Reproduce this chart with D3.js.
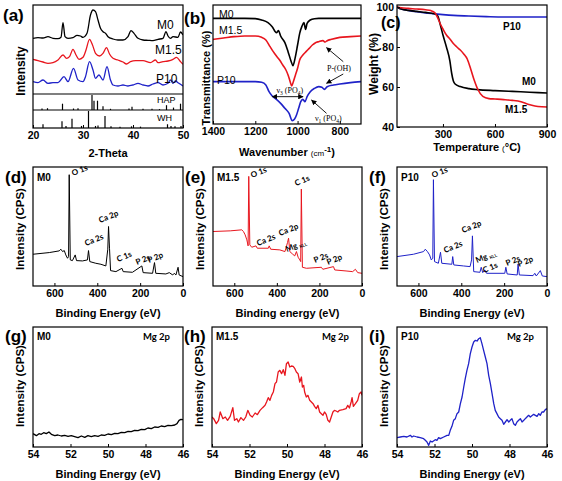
<!DOCTYPE html>
<html><head><meta charset="utf-8">
<script src="https://cdn.jsdelivr.net/npm/d3@7"></script>
<style>body{margin:0;background:#fff}</style>
</head><body>
<script>
// ---------------- DATA ----------------
// (a) XRD
const xrdTheta_M0 = [20,21,22,23,24,25,25.6,26,26.4,27,28,28.8,29.5,30,30.8,31.5,32,32.5,33,33.5,34,34.5,35,36,37,38,39,39.6,40.2,41,42,43,44,45,46,46.6,47,47.5,48,49,49.5,50];
const xrdI_M0 = [167,169,168,172,167,166,170,214,172,167,169,176,174,170,182,237,252,247,222,197,187,182,172,165,162,162,172,190,182,167,162,161,160,164,167,187,174,167,172,170,186,177];
const xrdTheta_M15 = [20,21,22,23,24,25,26,26.7,27.3,28,28.6,29.2,30,30.6,31.3,31.9,32.5,33.3,34,34.7,35.3,36,37,38,38.7,39.5,40.5,42,43.5,44.5,45,46,47,48,48.7,49.5,50];
const xrdI_M15 = [104,100,96,92,94,102,117,107,112,134,117,104,110,132,164,147,122,114,122,139,120,107,102,96,90,97,100,100,94,102,94,97,99,104,110,97,89];
const xrdTheta_P10 = [20,21,22,23,24,25,26.2,27,28.1,29,30,30.5,31.3,32,32.5,33.2,34,34.8,35.5,36,37,38,39,40,41,42,43,44,45,46,47,47.5,48,48.5,49,50];
const xrdI_P10 = [37,34,42,32,34,34,52,37,77,42,37,52,97,72,47,57,42,82,42,27,24,27,24,27,32,27,24,30,34,27,32,42,32,39,34,24];
const hapTheta = [21.8,22.9,25.9,28.1,29.0,31.8,32.2,32.9,34.0,35.5,39.2,39.8,42.0,43.8,45.3,46.7,48.1,49.5];
const hapI = [10,12,42,10,12,100,62,62,25,8,10,22,8,8,6,32,16,42];
const whTheta = [22.0,25.8,26.6,27.8,29.7,31.1,32.5,33.0,34.4,35.6,37.4,39.7,41.5,46.9,47.6,48.4,49.6];
const whI = [22,40,12,55,12,100,12,14,70,10,8,10,8,22,12,10,12];
const xrdTicks = [20,30,40,50];

// (b) FTIR
const ftirWn_M0 = [1400,1300,1250,1200,1170,1140,1120,1100,1090,1080,1060,1045,1030,1022,1012,1000,990,980,970,962,955,940,920,900,800,700];
const ftirT_M0 = [317,317,317,316,312,304,292,274,280,264,244,217,187,175,197,237,272,292,304,284,302,312,316,317,317,317];
const ftirWn_M15 = [1400,1350,1300,1250,1200,1170,1150,1130,1115,1100,1085,1070,1055,1045,1035,1028,1020,1010,1000,990,975,960,945,930,915,900,880,870,860,840,800,750,700];
const ftirT_M15 = [254,258,262,264,264,260,252,232,217,204,192,177,162,147,127,114,127,147,167,192,207,217,227,237,244,247,250,246,250,254,260,262,264];
const ftirWn_P10 = [1400,1300,1200,1170,1150,1135,1120,1100,1080,1060,1040,1025,1015,1005,995,985,975,965,955,940,920,900,885,873,860,830,800,750,700];
const ftirT_P10 = [127,127,127,125,117,97,84,74,62,47,32,10,14,27,47,67,74,67,82,97,107,112,110,104,112,117,120,124,127];
const ftirTicks = [1400,1200,1000,800];

// (c) TGA
const tgaT_M0 = [35,60,100,150,200,250,270,285,300,320,340,350,360,370,400,450,500,600,700,800,900];
const tgaW_M0 = [100,99,98.3,97.8,97.3,96.6,95.5,91,86,80,73,67,63,61.5,60.2,59.2,58.7,58.2,57.8,57.4,57];
const tgaT_M15 = [35,60,100,150,200,230,255,270,285,300,320,340,360,380,400,420,440,460,480,500,530,565,600,650,700,750,790,830,870,900];
const tgaW_M15 = [100,99.6,99.3,99,98.6,98.2,97,94.5,91.5,89,86,84,81.7,80,78.5,76.5,74,69,63.5,59,55.3,54.2,54,53.7,53.3,52.6,51.4,50.5,50.1,50];
const tgaT_P10 = [35,60,100,150,200,250,300,360,450,550,650,750,900];
const tgaW_P10 = [100,99,98.3,97.6,97,96.6,96.2,95.8,95.5,95.2,95,95,95];
const tgaXTicks = [300,600,900];
const tgaYTicks = [40,60,80,100];

// (d)-(f) XPS survey
const surveyBE_M0 = [700,624,578,570,562,554,547,539,534,531,526,516,503,497,469,446,441,435,407,383,360,351,347.5,343,338,313,285,279,236,192,186,142,133,127,80,64,48,41,33,23,18,0];
const surveyI_M0 = [95,100,105,110,103,106,93,83,88,333,78,76,93,76,75,78,106,73,68,65,60,110,178,113,46,43,53,43,41,60,40,38,70,38,36,40,33,38,33,56,33,28];
const surveyBE_M15 = [700,619,565,557,549,541,535,532,527,518,498,492,440,436,429,386,362,355,350,345,339,327,316,308,300,292,288,285,280,261,191,184,134,128,75,44,31,20,0];
const surveyI_M15 = [163,165,168,163,153,138,120,328,123,116,120,113,113,120,110,108,103,118,130,143,103,96,90,103,86,78,73,290,56,53,56,50,58,48,45,43,50,40,38];
const surveyBE_P10 = [700,623,576,568,558,548,540,533,530,525,507,497,491,444,440,435,390,359,352,348,342,313,307,300,290,282,197,192,186,139,135,129,65,57,50,31,22,0];
const surveyI_P10 = [88,95,103,110,103,93,78,83,318,73,68,101,68,65,88,63,60,58,78,150,43,41,56,40,48,38,38,56,36,33,66,33,31,38,30,46,30,28];
const surveyTicks = [600,400,200,0];

// (g)-(i) Mg 2p
const mgBE_M0 = [54.00,53.91,53.82,53.68,53.56,53.43,53.29,53.15,53.02,52.84,52.67,52.49,52.31,52.13,51.96,51.78,51.60,51.42,51.24,51.07,50.89,50.71,50.53,50.36,50.18,50.00,49.82,49.64,49.47,49.29,49.11,48.93,48.76,48.58,48.40,48.22,48.04,47.87,47.69,47.51,47.33,47.16,46.98,46.80,46.62,46.44,46.32,46.21,46.11,46.00];
const mgI_M0 = [40,37,34,40,38,43,40,45,38,34,36,33,35,32,34,31,28,33,29,34,31,34,32,36,35,39,37,41,40,44,43,47,46,50,49,53,52,57,55,60,59,63,61,65,64,66,70,80,83,82];
const mgBE_M15 = [54.00,53.91,53.77,53.65,53.56,53.42,53.29,53.17,53.03,52.89,52.80,52.68,52.59,52.46,52.32,52.20,52.09,51.97,51.85,51.70,51.58,51.44,51.30,51.17,51.09,51.00,50.91,50.82,50.73,50.64,50.56,50.47,50.38,50.29,50.20,50.11,50.03,49.94,49.85,49.76,49.67,49.58,49.50,49.41,49.32,49.23,49.18,49.11,49.06,48.97,48.88,48.79,48.70,48.61,48.53,48.44,48.35,48.26,48.17,48.08,48.00,47.91,47.82,47.73,47.64,47.55,47.47,47.38,47.29,47.20,47.02,46.85,46.76,46.67,46.58,46.53,46.46,46.35,46.23,46.14,46.05,46.00];
const mgI_M15 = [90,85,70,80,105,85,90,80,92,118,80,85,75,88,80,90,110,95,90,102,97,110,118,125,135,148,140,155,165,190,195,225,230,220,232,215,250,255,240,243,242,235,225,220,195,210,180,185,165,150,155,140,135,130,122,115,125,105,100,95,105,98,80,75,90,105,110,108,105,110,112,115,125,117,135,148,122,130,140,160,165,155];
const mgBE_P10 = [54.00,53.82,53.64,53.47,53.29,53.20,53.11,52.93,52.76,52.58,52.49,52.40,52.31,52.22,52.13,51.96,51.87,51.78,51.69,51.51,51.33,51.24,51.16,51.07,50.98,50.89,50.80,50.71,50.62,50.53,50.44,50.36,50.27,50.18,50.09,50.00,49.91,49.82,49.73,49.64,49.56,49.47,49.38,49.29,49.20,49.11,49.02,48.93,48.84,48.76,48.67,48.58,48.49,48.40,48.31,48.22,48.13,48.04,47.96,47.87,47.78,47.69,47.60,47.51,47.42,47.33,47.24,47.16,47.07,46.98,46.89,46.71,46.53,46.44,46.36,46.27,46.18,46.09,46.00];
const mgI_P10 = [28,30,32,30,35,30,33,30,28,25,20,15,5,18,15,22,20,28,25,30,35,35,50,62,80,85,100,105,130,150,180,205,230,250,280,300,315,320,318,325,328,310,290,270,250,215,190,160,130,110,100,90,85,80,68,75,82,75,80,85,70,65,75,80,85,75,80,85,90,95,90,98,92,100,95,105,105,112,115];
const mgTicks = [54,52,50,48,46];

// ---------------- DRAWING ----------------
const SANS = "'Liberation Sans', Arial, sans-serif";
const CAL = "Lato, 'Open Sans', sans-serif";
const SERIF = "'Liberation Serif', 'Times New Roman', serif";
const RED = '#e8161e', BLUE = '#1f22c8', BLACK = '#000';

const svg = d3.select('body').append('svg').attr('width', 562).attr('height', 481);
svg.append('defs').append('marker').attr('id','ah').attr('viewBox','0 0 10 10')
  .attr('refX',9).attr('refY',5).attr('markerWidth',6).attr('markerHeight',6).attr('orient','auto-start-reverse')
  .append('path').attr('d','M0,0L10,5L0,10z').attr('fill','#000');

let cid = 0;
function panel(o) {
  const g = svg.append('g');
  const x = d3.scaleLinear().domain(o.xd).range([o.l, o.r]);
  const y = d3.scaleLinear().domain(o.yd).range([o.yb !== undefined ? o.yb : o.b, o.t]);
  const id = 'clip' + (cid++);
  svg.select('defs').append('clipPath').attr('id', id).append('rect')
    .attr('x', o.l).attr('y', o.t).attr('width', o.r - o.l).attr('height', o.b - o.t);
  const plot = g.append('g').attr('clip-path', `url(#${id})`);
  const ax = g.append('g').attr('transform', `translate(0,${o.b})`)
    .call(d3.axisBottom(x).tickValues(o.xt).tickSize(-3).tickPadding(4).tickFormat(d3.format('d')));
  ax.select('.domain').remove();
  ax.selectAll('line').attr('stroke', '#000');
  ax.selectAll('text').attr('font-family', SANS).attr('font-weight', 'bold').attr('font-size', 10.5).attr('fill', '#000');
  if (o.yt) {
    const ay = g.append('g').attr('transform', `translate(${o.l},0)`)
      .call(d3.axisLeft(y).tickValues(o.yt).tickSize(-3).tickPadding(3).tickFormat(d3.format('d')));
    ay.select('.domain').remove();
    ay.selectAll('line').attr('stroke', '#000');
    ay.selectAll('text').attr('font-family', SANS).attr('font-weight', 'bold').attr('font-size', 10.5).attr('fill', '#000');
  }
  const p = { g, plot, x, y, o };
  return p;
}
function box(p) {
  const o = p.o;
  p.g.append('rect').attr('x', o.l).attr('y', o.t).attr('width', o.r - o.l).attr('height', o.b - o.t)
    .attr('fill', 'none').attr('stroke', '#000').attr('stroke-width', 1.2);
}
function line(p, xs, ys, color, w, curve) {
  p.plot.append('path').datum(xs.map((v, i) => [v, ys[i]]))
    .attr('d', d3.line().x(d => p.x(d[0])).y(d => p.y(d[1])).curve(curve || d3.curveLinear))
    .attr('fill', 'none').attr('stroke', color).attr('stroke-width', w).attr('stroke-linejoin', 'round');
}
function text(x, y, s, o = {}) {
  const t = svg.append('text').attr('x', x).attr('y', y).text(s)
    .attr('font-family', o.ff || SANS).attr('font-size', o.fs || 11)
    .attr('font-weight', o.fw || 'bold').attr('fill', o.fill || '#000')
    .attr('text-anchor', o.anchor || 'start');
  if (o.rot !== undefined) t.attr('transform', `rotate(${o.rot},${x},${y})`);
  return t;
}
function ytitle(x, y, s, fs) { return text(x, y, s, { rot: -90, anchor: 'middle', fs: fs || 12 }); }

// ---- (a) XRD ----
{
  const p = panel({ l: 33, r: 183, t: 5, b: 128, yb: 94, xd: [20, 50], yd: [0, 267], xt: xrdTicks });
  line(p, xrdTheta_M0, xrdI_M0, BLACK, 1.3, d3.curveMonotoneX);
  line(p, xrdTheta_M15, xrdI_M15, RED, 1.3, d3.curveMonotoneX);
  line(p, xrdTheta_P10, xrdI_P10, BLUE, 1.3, d3.curveMonotoneX);
  const yH = d3.scaleLinear().domain([0, 100]).range([110, 95]);
  const yW = d3.scaleLinear().domain([0, 100]).range([128, 111]);
  [94, 110].forEach(v => p.g.append('line').attr('x1', 33).attr('x2', 183).attr('y1', v).attr('y2', v).attr('stroke', '#000').attr('stroke-width', 1.1));
  p.plot.selectAll('.hap').data(hapTheta).enter().append('line')
    .attr('x1', d => p.x(d)).attr('x2', d => p.x(d)).attr('y1', yH(0)).attr('y2', (d, i) => yH(hapI[i]))
    .attr('stroke', '#000').attr('stroke-width', 1.2);
  p.plot.selectAll('.wh').data(whTheta).enter().append('line')
    .attr('x1', d => p.x(d)).attr('x2', d => p.x(d)).attr('y1', yW(0)).attr('y2', (d, i) => yW(whI[i]))
    .attr('stroke', '#000').attr('stroke-width', 1.2);
  box(p);
  text(157, 28.5, 'M0', { fw: 'normal', fs: 12 });
  text(155, 54, 'M1.5', { fw: 'normal', fs: 12 });
  text(156, 82.5, 'P10', { fw: 'normal', fs: 12 });
  text(157, 102.5, 'HAP', { fw: 'normal', fs: 9 });
  text(157, 121, 'WH', { fw: 'normal', fs: 9 });
  ytitle(25, 71, 'Intensity');
  text(108, 157, '2-Theta', { anchor: 'middle', fs: 11 });
  text(3, 21, '(a)', { fs: 17 });
}

// ---- (b) FTIR ----
{
  const p = panel({ l: 213, r: 361, t: 5, b: 124, xd: [1400, 700], yd: [0, 357], xt: ftirTicks });
  line(p, ftirWn_M0, ftirT_M0, BLACK, 1.6, d3.curveMonotoneX);
  line(p, ftirWn_M15, ftirT_M15, RED, 1.6, d3.curveMonotoneX);
  line(p, ftirWn_P10, ftirT_P10, BLUE, 1.6, d3.curveMonotoneX);
  box(p);
  const arrows = [[784, 187, 863, 229], [784, 150, 863, 122], [863, 32, 934, 72]];
  arrows.forEach(a => p.g.append('line').attr('x1', p.x(a[0])).attr('y1', p.y(a[1])).attr('x2', p.x(a[2])).attr('y2', p.y(a[3]))
    .attr('stroke', '#000').attr('stroke-width', 0.9).attr('marker-end', 'url(#ah)'));
  p.g.append('line').attr('x1', p.x(1119)).attr('x2', p.x(974)).attr('y1', p.y(82)).attr('y2', p.y(82))
    .attr('stroke', '#000').attr('stroke-width', 0.9).attr('marker-start', 'url(#ah)').attr('marker-end', 'url(#ah)');
  text(p.x(861), p.y(159), 'P-(OH)', { ff: SERIF, fw: 'normal', fs: 8 });
  const n3 = text(p.x(1100), p.y(93), 'ν', { ff: SERIF, fw: 'normal', fs: 8 });
  n3.append('tspan').attr('font-size', 5.5).attr('dy', 1.5).text('3');
  n3.append('tspan').attr('dy', -1.5).text(' (PO');
  n3.append('tspan').attr('font-size', 5.5).attr('dy', 1.5).text('4');
  n3.append('tspan').attr('dy', -1.5).text(')');
  const n1 = text(p.x(918), p.y(9), 'ν', { ff: SERIF, fw: 'normal', fs: 8 });
  n1.append('tspan').attr('font-size', 5.5).attr('dy', 1.5).text('1');
  n1.append('tspan').attr('dy', -1.5).text(' (PO');
  n1.append('tspan').attr('font-size', 5.5).attr('dy', 1.5).text('4');
  n1.append('tspan').attr('dy', -1.5).text(')');
  text(219, 17.5, 'M0', { fw: 'normal', fs: 10.5 });
  text(219, 33.5, 'M1.5', { fw: 'normal', fs: 10.5 });
  text(217, 83.5, 'P10', { fw: 'normal', fs: 10.5 });
  ytitle(210, 78, 'Transmittance (%)', 11);
  const xt = text(287, 156, 'Wavenumber ', { anchor: 'middle', fs: 11 });
  xt.append('tspan').attr('font-size', 8).attr('font-weight', 'normal').text('(cm');
  xt.append('tspan').attr('font-size', 8).attr('dy', -4).text('-1');
  xt.append('tspan').attr('dy', 4).text(')');
  text(184, 24, '(b)', { fs: 17 });
}

// ---- (c) TGA ----
{
  const p = panel({ l: 397, r: 547, t: 5, b: 127, xd: [35, 900], yd: [40, 101], xt: tgaXTicks, yt: tgaYTicks });
  line(p, tgaT_P10, tgaW_P10, BLUE, 1.6, d3.curveMonotoneX);
  line(p, tgaT_M0, tgaW_M0, BLACK, 1.6, d3.curveMonotoneX);
  line(p, tgaT_M15, tgaW_M15, RED, 1.6, d3.curveMonotoneX);
  box(p);
  text(503, 29.5, 'P10', { fs: 10 });
  text(522, 85, 'M0', { fs: 10 });
  text(505, 113, 'M1.5', { fs: 10 });
  ytitle(378, 64, 'Weight (%)');
  const xt = text(477, 151, 'Temperature ', { anchor: 'middle', fs: 11 });
  xt.append('tspan').attr('font-size', 8).attr('font-weight', 'normal').text('(');
  xt.append('tspan').text('°C)');
  text(381, 28, '(c)', { fs: 16 });
}

// ---- (d)-(f) XPS survey ----
function survey(l, r, be, inten, color, name, letter, xtitle, labels) {
  const p = panel({ l: l, r: r, t: 167, b: 286, xd: [700, 0], yd: [0, 356], xt: surveyTicks });
  line(p, be, inten, color, 1, d3.curveLinear);
  box(p);
  text(l + 4, 181, name, { fs: 10 });
  text(l - 28, 183, letter, { fs: 17 });
  ytitle(l - 9, 229, 'Intensity (CPS)', 11.5);
  text((l + r) / 2, 317, xtitle, { anchor: 'middle', fs: 11 });
  labels.forEach(d => {
    const t = text(d[1], d[2], d[0], { ff: CAL, fs: 8, rot: -22 });
    if (d[3]) t.append('tspan').attr('font-size', 4.5).attr('dy', 1.5).text(d[3]);
  });
  return p;
}
survey(33, 183, surveyBE_M0, surveyI_M0, BLACK, 'M0', '(d)', 'Binding Energy (eV)', [
  ['O 1s', 73, 176], ['Ca 2p', 100, 223], ['Ca 2s', 86, 246], ['C 1s', 118, 262], ['P 2s', 137, 265], ['P 2p', 149, 263]]);
survey(213, 362, surveyBE_M15, surveyI_M15, RED, 'M1.5', '(e)', 'Binding energy (eV)', [
  ['O 1s', 252, 178], ['C 1s', 296, 186], ['Ca 2s', 258, 246], ['Ca 2p', 280, 236], ['Mg ', 287, 252, 'KLL'], ['P 2s', 315, 263], ['P 2p', 328, 265]]);
survey(397, 547, surveyBE_P10, surveyI_P10, BLUE, 'P10', '(f)', 'Binding Energy (eV)', [
  ['O 1s', 433, 178], ['Ca 2p', 463, 233], ['Ca 2s', 445, 253], ['Mg ', 477, 263, 'KLL'], ['C 1s', 484, 273], ['P 2s', 507, 266], ['P 2p', 519, 267]]);

// ---- (g)-(i) Mg 2p ----
function mg(l, r, be, inten, color, name, letter) {
  const p = panel({ l: l, r: r, t: 327, b: 447, xd: [54, 46], yd: [0, 360], xt: mgTicks });
  line(p, be, inten, color, 1.3, d3.curveLinear);
  box(p);
  text(l + 4, 340, name, { fs: 10 });
  text(r - 13, 340, 'Mg 2p', { ff: CAL, fs: 9.5, anchor: 'end', fw: 'bold' });
  text(l - 28, 342, letter, { fs: 17 });
  ytitle(l - 9, 386, 'Intensity (CPS)', 11.5);
  text((l + r) / 2, 478, 'Binding Energy (eV)', { anchor: 'middle', fs: 11 });
}
mg(33, 183, mgBE_M0, mgI_M0, BLACK, 'M0', '(g)');
mg(212, 362, mgBE_M15, mgI_M15, RED, 'M1.5', '(h)');
mg(397, 547, mgBE_P10, mgI_P10, BLUE, 'P10', '(i)');
</script>
</body></html>
